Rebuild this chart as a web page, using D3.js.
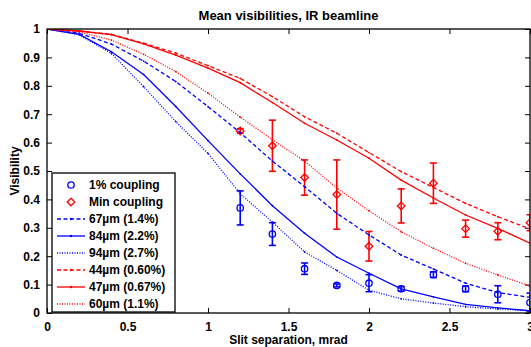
<!DOCTYPE html>
<html><head><meta charset="utf-8">
<script src="https://cdn.jsdelivr.net/npm/d3@7"></script>
<style>
html,body{margin:0;padding:0;background:#fff;}
svg{display:block;font-family:"Liberation Sans",Arial,Helvetica,sans-serif;}
</style></head>
<body>
<script>
// ---------- data ----------
const xGrid = [0,0.2,0.4,0.6,0.8,1.0,1.2,1.4,1.6,1.8,2.0,2.2,2.4,2.6,2.8,3.0];
const v67 = [1,0.985,0.947,0.887,0.815,0.727,0.635,0.535,0.445,0.351,0.275,0.204,0.155,0.105,0.072,0.055];
const v84 = [1,0.981,0.920,0.840,0.727,0.607,0.490,0.378,0.281,0.197,0.140,0.085,0.057,0.030,0.018,0.008];
const v94 = [1,0.980,0.914,0.797,0.674,0.562,0.420,0.320,0.215,0.150,0.080,0.050,0.035,0.022,0.014,0.008];
const v44 = [1,0.993,0.981,0.950,0.915,0.871,0.826,0.762,0.691,0.633,0.565,0.498,0.442,0.386,0.339,0.296];
const v47 = [1,0.993,0.980,0.948,0.908,0.862,0.811,0.741,0.668,0.609,0.545,0.468,0.405,0.345,0.298,0.246];
const v60 = [1,0.990,0.961,0.911,0.850,0.774,0.690,0.610,0.535,0.440,0.360,0.286,0.228,0.175,0.134,0.095];

const xMeas = [1.2,1.4,1.6,1.8,2.0,2.2,2.4,2.6,2.8,3.0];
const meas1 = [0.37,0.278,0.156,0.097,0.105,0.085,0.135,0.085,0.066,0.037];
const err1  = [0.06,0.04,0.02,0.005,0.03,0.008,0.01,0.01,0.03,0.033];
const measMin = [0.641,0.589,0.477,0.417,0.235,0.377,0.457,0.297,0.288,0.318];
const errMin  = [0.008,0.09,0.062,0.122,0.052,0.06,0.071,0.03,0.03,0.028];

const xTicks = [0,0.5,1,1.5,2,2.5,3];
const yTicks = [0,0.1,0.2,0.3,0.4,0.5,0.6,0.7,0.8,0.9,1];

const lineSeries = [
  {label:"67\u00b5m (1.4%)", vals:v67, color:"#0000ff", dash:"4,2.5"},
  {label:"84\u00b5m (2.2%)", vals:v84, color:"#0000ff", dash:null},
  {label:"94\u00b5m (2.7%)", vals:v94, color:"#0000ff", dash:"1,1.5"},
  {label:"44\u00b5m (0.60%)", vals:v44, color:"#ff0000", dash:"4,2.5"},
  {label:"47\u00b5m (0.67%)", vals:v47, color:"#ff0000", dash:null},
  {label:"60\u00b5m (1.1%)", vals:v60, color:"#ff0000", dash:"1,1.5"}
];

// ---------- layout ----------
const W = 531, H = 347;
const L = 47, R = 530, T = 29, B = 313;
const FS = "12px";
const svg = d3.select("body").append("svg").attr("width", W).attr("height", H);

const x = d3.scaleLinear().domain([0,3]).range([L,R]);
const y = d3.scaleLinear().domain([0,1]).range([B,T]);

svg.append("defs").append("clipPath").attr("id","clip")
  .append("rect").attr("x",L).attr("y",T).attr("width",R-L).attr("height",B-T);

const fmt = d => String(d);

// axes
const gx = svg.append("g").attr("transform",`translate(0,${B})`)
  .call(d3.axisBottom(x).tickValues(xTicks).tickFormat(fmt).tickSizeInner(-5).tickSizeOuter(0).tickPadding(9));
const gxt = svg.append("g").attr("transform",`translate(0,${T})`)
  .call(d3.axisTop(x).tickValues(xTicks).tickFormat("").tickSizeInner(-5).tickSizeOuter(0));
const gy = svg.append("g").attr("transform",`translate(${L},0)`)
  .call(d3.axisLeft(y).tickValues(yTicks).tickFormat(fmt).tickSizeInner(-5).tickSizeOuter(0).tickPadding(7));
const gyr = svg.append("g").attr("transform",`translate(${R},0)`)
  .call(d3.axisRight(y).tickValues(yTicks).tickFormat("").tickSizeInner(-5).tickSizeOuter(0));
[gx,gxt,gy,gyr].forEach(g=>{
  g.selectAll("path.domain").remove();
  g.selectAll("line").attr("stroke","#000").attr("stroke-width",1);
  g.selectAll("text").attr("fill","#000").style("font-size",FS).style("font-weight","bold")
   .style("font-family","'Liberation Sans',Arial,sans-serif");
});

const plot = svg.append("g").attr("clip-path","url(#clip)");

// measured: 1% coupling (blue circles)
const g1 = plot.append("g").attr("stroke","#0000ff").attr("fill","none").attr("stroke-width",1.3);
xMeas.forEach((xv,i)=>{
  const cx = x(xv), y0 = y(meas1[i]-err1[i]), y1 = y(meas1[i]+err1[i]);
  g1.append("line").attr("x1",cx).attr("x2",cx).attr("y1",y0).attr("y2",y1).attr("stroke-width",1.6);
  g1.append("line").attr("x1",cx-3.5).attr("x2",cx+3.5).attr("y1",y0).attr("y2",y0).attr("stroke-width",1.6);
  g1.append("line").attr("x1",cx-3.5).attr("x2",cx+3.5).attr("y1",y1).attr("y2",y1).attr("stroke-width",1.6);
  g1.append("circle").attr("cx",cx).attr("cy",y(meas1[i])).attr("r",3.2);
});
// measured: min coupling (red diamonds)
const gm = plot.append("g").attr("stroke","#ff0000").attr("fill","none").attr("stroke-width",1.3);
const diamond = (cx,cy,r)=>`M${cx},${cy-r}L${cx+r},${cy}L${cx},${cy+r}L${cx-r},${cy}Z`;
xMeas.forEach((xv,i)=>{
  const cx = x(xv), y0 = y(measMin[i]-errMin[i]), y1 = y(measMin[i]+errMin[i]);
  gm.append("line").attr("x1",cx).attr("x2",cx).attr("y1",y0).attr("y2",y1).attr("stroke-width",1.6);
  gm.append("line").attr("x1",cx-3.5).attr("x2",cx+3.5).attr("y1",y0).attr("y2",y0).attr("stroke-width",1.6);
  gm.append("line").attr("x1",cx-3.5).attr("x2",cx+3.5).attr("y1",y1).attr("y2",y1).attr("stroke-width",1.6);
  gm.append("path").attr("d",diamond(cx,y(measMin[i]),3.8));
});

// model curves
const lineGen = d3.line().x((d,i)=>x(xGrid[i])).y(d=>y(d));
lineSeries.forEach(s=>{
  const p = plot.append("path").datum(s.vals).attr("d",lineGen)
    .attr("fill","none").attr("stroke",s.color).attr("stroke-width",1.3);
  if (s.dash) p.attr("stroke-dasharray",s.dash);
  plot.append("g").selectAll("circle").data(s.vals).join("circle")
    .attr("cx",(d,i)=>x(xGrid[i])).attr("cy",d=>y(d)).attr("r",0.9).attr("fill",s.color);
});

// frame
svg.append("rect").attr("x",L).attr("y",T).attr("width",R-L).attr("height",B-T)
  .attr("fill","none").attr("stroke","#000").attr("stroke-width",1.3);

// title & labels
const txt = (xx,yy,s,fs)=>svg.append("text").attr("x",xx).attr("y",yy).text(s)
  .attr("text-anchor","middle").attr("fill","#000").style("font-size",fs).style("font-weight","bold");
txt((L+R)/2, 20, "Mean visibilities, IR beamline", "13px");
txt((L+R)/2, 344, "Slit separation, mrad", FS);
txt(0,0,"Visibility",FS).attr("transform",`translate(19,${(T+B)/2}) rotate(-90)`);

// legend
const lg = svg.append("g");
lg.append("rect").attr("x",52).attr("y",173).attr("width",123).attr("height",139)
  .attr("fill","#fff").attr("stroke","#000").attr("stroke-width",1.3);
const rowY = i => 185 + i*17;
const legendRows = [{label:"1% coupling"},{label:"Min coupling"}].concat(lineSeries);
legendRows.forEach((r,i)=>{
  const yy = rowY(i);
  if (i===0) lg.append("circle").attr("cx",71).attr("cy",yy).attr("r",3.2).attr("fill","none").attr("stroke","#0000ff").attr("stroke-width",1.3);
  else if (i===1) lg.append("path").attr("d",diamond(71,yy,3.8)).attr("fill","none").attr("stroke","#ff0000").attr("stroke-width",1.3);
  else {
    const l = lg.append("line").attr("x1",57).attr("x2",85).attr("y1",yy).attr("y2",yy)
      .attr("stroke",r.color).attr("stroke-width",1.3);
    if (r.dash) l.attr("stroke-dasharray",r.dash);
    if (r.dash !== "1,1.5") lg.append("circle").attr("cx",71).attr("cy",yy).attr("r",1.2).attr("fill",r.color);
  }
  lg.append("text").attr("x",89).attr("y",yy+4).text(r.label).attr("fill","#000")
    .style("font-size",FS).style("font-weight","bold");
});
</script>
</body></html>
